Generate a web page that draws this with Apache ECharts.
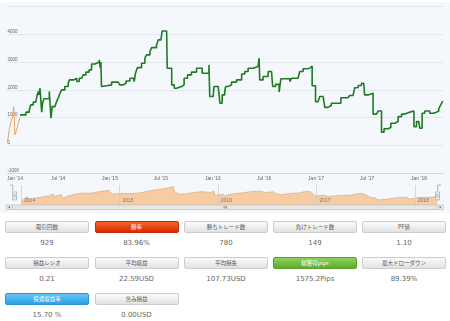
<!DOCTYPE html>
<html><head><meta charset="utf-8">
<script src="https://cdn.jsdelivr.net/npm/echarts@6/dist/echarts.min.js"></script>
<style>
html,body{margin:0;padding:0;background:#fff;width:450px;height:321px;overflow:hidden;}
#bg{position:absolute;left:0;top:2px;width:450px;height:211px;background:#f4f8fc;}
#chart{position:absolute;left:0;top:0;width:450px;height:213px;}
.stat{position:absolute;width:84px;}
.btn{box-sizing:border-box;height:12px;border:1px solid #cdcdcd;border-radius:2px;background:linear-gradient(#fbfbfb,#e2e2e2);color:#555;font-family:"Noto Sans CJK JP",sans-serif;font-size:5.5px;line-height:10px;text-align:center;white-space:nowrap;}
.btn.red{background:linear-gradient(#f4632f,#d82a02);border-color:#c52a06;color:#fff;}
.btn.green{background:linear-gradient(#8fd25c,#5dab2f);border-color:#5a9e2e;color:#fff;}
.btn.blue{background:linear-gradient(#63c6f6,#2c9fe6);border-color:#2a92d0;color:#fff;}
.val{margin-top:6px;line-height:8px;text-align:center;font-family:"DejaVu Sans",sans-serif;font-size:7px;color:#666;white-space:nowrap;}
</style></head>
<body>
<div id="bg"></div>
<div id="chart"></div>
<div id="stats"></div>
<script>
// ---- data ----
const orangeDates = ['2014-01-02','2014-01-09','2014-01-15','2014-01-21','2014-01-25','2014-01-29','2014-02-04','2014-02-10','2014-02-16'];
const orangeValues = [80,560,860,1040,1400,380,560,800,990];

const greenDates = [
'2014-02-16','2014-03-09','2014-03-21','2014-03-26','2014-04-04','2014-04-13','2014-04-18','2014-04-22','2014-04-24','2014-04-28',
'2014-05-01','2014-05-04','2014-05-07','2014-05-12','2014-05-31','2014-06-04','2014-06-06','2014-06-10','2014-06-20','2014-06-26',
'2014-07-02','2014-07-08','2014-07-14','2014-07-25','2014-08-06','2014-08-10','2014-08-26','2014-09-05','2014-09-14','2014-09-23',
'2014-09-28','2014-10-08','2014-10-19','2014-10-28','2014-11-09','2014-11-24','2014-11-26','2014-11-28','2014-11-30','2014-12-02',
'2014-12-07','2014-12-20','2015-01-07','2015-01-30','2015-02-05','2015-02-17','2015-02-27','2015-03-13','2015-03-25','2015-03-28',
'2015-04-01','2015-04-08','2015-04-23','2015-05-05','2015-05-11','2015-05-23','2015-05-29','2015-06-15','2015-06-21','2015-07-01',
'2015-07-05','2015-07-21','2015-07-23','2015-08-08','2015-08-17','2015-08-25','2015-09-12','2015-09-21','2015-10-03','2015-10-17',
'2015-11-04','2015-11-24','2015-12-06','2015-12-13','2015-12-18','2015-12-21','2016-01-02','2016-01-05','2016-01-20','2016-01-26',
'2016-02-03','2016-02-12','2016-02-15','2016-02-24','2016-03-07','2016-03-25','2016-04-12','2016-04-23','2016-05-05','2016-05-23',
'2016-06-09','2016-06-13','2016-06-15','2016-06-27','2016-07-15','2016-07-27','2016-07-31','2016-08-10','2016-08-23','2016-08-29',
'2016-09-30','2016-10-06','2016-10-29','2016-11-04','2016-11-16','2016-11-28','2016-12-10','2016-12-16','2016-12-18','2016-12-30',
'2017-01-08','2017-01-14','2017-01-26','2017-02-01','2017-02-12','2017-02-24','2017-03-30','2017-04-24','2017-04-30','2017-05-12',
'2017-05-18','2017-05-30','2017-06-11','2017-06-19','2017-06-22','2017-07-04','2017-07-10','2017-07-22','2017-08-03','2017-08-09',
'2017-08-21','2017-08-30','2017-09-13','2017-09-23','2017-10-07','2017-10-19','2017-10-31','2017-11-11','2017-11-29','2017-12-14',
'2017-12-23','2017-12-31','2018-01-04','2018-01-12','2018-01-21','2018-02-08','2018-02-20','2018-03-04','2018-03-12','2018-03-19',
'2018-03-26'];
const greenValues = [
1100,1200,1280,1460,1560,1600,1820,1940,1820,2060,
2090,1200,1520,1680,1940,1900,980,1400,1440,1580,
1720,1880,2000,2120,2240,2360,2420,2300,2420,2360,
2540,2640,2720,2930,3000,3080,3140,2780,3000,2120,
2150,2180,2280,2240,2180,2240,2320,2420,2480,2300,
2570,2800,2960,3140,3260,3380,3520,3600,3800,3860,
4120,4160,2780,2180,2060,2120,2180,2420,2540,2640,
2780,2600,2540,2600,2900,1760,1800,2120,2100,1520,
1820,1940,2120,2180,2280,2360,2570,2660,2780,2840,
2900,3140,2360,2480,2660,2720,2120,2200,1920,2400,
2300,2420,2400,2660,2760,2780,2840,2860,2150,1580,
1640,1760,1800,1370,1440,1520,1720,1760,1800,1850,
2080,2160,2240,2300,1820,1850,1880,1130,1160,1240,
480,600,650,800,860,1040,1130,1200,1240,680,
860,880,620,1160,1240,1160,1200,1240,1330,1460,
1600];

const tickLabels = ['2014-01-01','2014-07-01','2015-01-01','2015-07-01','2016-01-01','2016-07-01','2017-01-01','2017-07-01','2018-01-01'];
const navYears = ['2014-01-01','2015-01-01','2016-01-01','2017-01-01','2018-01-01'];
const monthNames = ['Jan','Feb','Mar','Apr','May','Jun','Jul','Aug','Sep','Oct','Nov','Dec'];

const statLabels = ['取引回数','勝率','勝ちトレード数','負けトレード数','PF値','損益レシオ','平均収益','平均損失','総獲得pips','最大ドローダウン','投資収益率','含み損益'];
const statValues = ['929','83.96%','780','149','1.10','0.21','22.59USD','107.73USD','1575.2Pips','89.39%','15.70 %','0.00USD'];
const statKinds  = ['','red','','','','','','','green','','blue',''];

// ---- stats grid ----
const colLeft = [5, 94.5, 184, 273, 362];
const rowTop = [221, 257, 293];
const host = document.getElementById('stats');
statLabels.forEach((lab, i) => {
  const d = document.createElement('div');
  d.className = 'stat';
  d.style.left = colLeft[i % 5] + 'px';
  d.style.top = rowTop[Math.floor(i / 5)] + 'px';
  d.innerHTML = '<div class="btn ' + statKinds[i] + '">' + lab + '</div><div class="val">' + statValues[i] + '</div>';
  host.appendChild(d);
});

// ---- chart ----
const T = s => { const p = s.split('-').map(Number); return Date.UTC(p[0], p[1] - 1, p[2]); };
const zip = (d, v) => d.map((s, i) => [T(s), v[i]]);
const orangeData = zip(orangeDates, orangeValues);
const greenData = zip(greenDates, greenValues);
const navData = orangeData.concat(greenData.slice(1));
const tickVals = tickLabels.map(T);
const navVals = navYears.map(T);
const FONT = 'Liberation Sans';
const fmtMain = v => { const d = new Date(v); return monthNames[d.getUTCMonth()] + " '" + String(d.getUTCFullYear()).slice(2); };
const fmtYear = v => String(new Date(v).getUTCFullYear());

const chart = echarts.init(document.getElementById('chart'), null, {renderer: 'canvas'});
chart.setOption({
  animation: false,
  backgroundColor: 'transparent',
  textStyle: {fontFamily: FONT},
  grid: [
    {left: 7, right: 7, top: 6.5, height: 166.8},
    {left: 12.7, right: 12.3, top: 185, height: 20.3}
  ],
  xAxis: [
    {type: 'value', gridIndex: 0, min: T('2014-01-01'), max: T('2018-03-27'),
     axisLine: {show: true, onZero: false, lineStyle: {color: '#ccd6eb', width: 1}},
     axisTick: {show: false, customValues: tickVals},
     splitLine: {show: false},
     axisLabel: {customValues: tickVals, fontSize: 5, color: '#666', margin: 2.5, fontFamily: FONT,
       alignMinLabel: 'left', formatter: fmtMain}},
    {type: 'value', gridIndex: 1, min: T('2013-12-01'), max: T('2018-03-27'), z: 5,
     axisLine: {show: false, onZero: false},
     axisTick: {show: false, customValues: navVals},
     splitLine: {show: true, lineStyle: {color: '#c9c9c9', width: 0.7}},
     axisLabel: {inside: true, customValues: navVals, fontSize: 5, color: '#777', margin: 2.5, align: 'left', padding: [0, 0, 0, 3], fontFamily: FONT,
       formatter: fmtYear}}
  ],
  yAxis: [
    {type: 'value', gridIndex: 0, min: -1000, max: 5000, interval: 1000,
     axisLine: {show: false}, axisTick: {show: false},
     splitLine: {show: true, lineStyle: {color: '#e3e8ee', width: 1}},
     axisLabel: {inside: true, margin: 0.5, fontSize: 4.5, color: '#666', verticalAlign: 'bottom', showMaxLabel: false, fontFamily: FONT,
       formatter: v => String(v)}},
    {type: 'value', gridIndex: 1, min: -1000, max: 4600, show: false, splitLine: {show: false}}
  ],
  dataZoom: [{
    type: 'slider', xAxisIndex: 0, filterMode: 'none', start: 0, end: 100,
    left: 12.7, right: 12.3, top: 185, height: 20.3,
    showDataShadow: false, showDetail: false, brushSelect: false, moveHandleSize: 0,
    backgroundColor: 'rgba(0,0,0,0)', borderColor: 'rgba(0,0,0,0)', fillerColor: 'rgba(0,0,0,0)',
    handleIcon: 'path://M0,0H4V8H0Z M1.4,2V6 M2.6,2V6',
    handleSize: 8,
    handleStyle: {color: '#f2f2f2', borderColor: '#999', borderWidth: 0.6},
    emphasis: {handleStyle: {color: '#f2f2f2', borderColor: '#999'}},
    z: 10
  }],
  graphic: [
    {type: 'rect', shape: {x: 6, y: 205, width: 437, height: 4.5}, style: {fill: '#f2f2f2', stroke: '#cccccc', lineWidth: 0.5}, z: 20},
    {type: 'rect', shape: {x: 12.7, y: 205, width: 425, height: 4.5}, style: {fill: '#e6e6e6', stroke: '#bbbbbb', lineWidth: 0.5}, z: 21},
    {type: 'rect', shape: {x: 6, y: 205, width: 6.2, height: 4.5}, style: {fill: '#e6e6e6', stroke: '#bbbbbb', lineWidth: 0.5}, z: 22},
    {type: 'rect', shape: {x: 437.2, y: 205, width: 6.2, height: 4.5}, style: {fill: '#e6e6e6', stroke: '#bbbbbb', lineWidth: 0.5}, z: 22},
    {type: 'polygon', shape: {points: [[10, 206.2], [10, 208.3], [8.2, 207.25]]}, style: {fill: '#555'}, z: 23},
    {type: 'polygon', shape: {points: [[439.6, 206.2], [439.6, 208.3], [441.4, 207.25]]}, style: {fill: '#555'}, z: 23},
    {type: 'polyline', shape: {points: [[224, 206], [224, 208.5]]}, style: {stroke: '#555', lineWidth: 0.5}, z: 23},
    {type: 'polyline', shape: {points: [[225.3, 206], [225.3, 208.5]]}, style: {stroke: '#555', lineWidth: 0.5}, z: 23},
    {type: 'polyline', shape: {points: [[226.6, 206], [226.6, 208.5]]}, style: {stroke: '#555', lineWidth: 0.5}, z: 23},
    {type: 'polyline', shape: {points: [[10, 185], [12.7, 185], [12.7, 191]]}, style: {stroke: '#999', lineWidth: 0.7, fill: null}, z: 23},
    {type: 'polyline', shape: {points: [[441, 185], [437.7, 185], [437.7, 191]]}, style: {stroke: '#999', lineWidth: 0.7, fill: null}, z: 23}
  ],
  series: [
    {type: 'line', name: 'start', xAxisIndex: 0, yAxisIndex: 0, data: orangeData, showSymbol: false,
     lineStyle: {color: '#e8a365', width: 1}, itemStyle: {color: '#e8a365'}, z: 2},
    {type: 'line', name: 'equity', xAxisIndex: 0, yAxisIndex: 0, data: greenData, step: 'end', showSymbol: false,
     lineStyle: {color: '#1f7a23', width: 1.6}, itemStyle: {color: '#1f7a23'}, z: 3},
    {type: 'line', name: 'navigator', xAxisIndex: 1, yAxisIndex: 1, data: navData, showSymbol: false,
     lineStyle: {color: '#d6a274', width: 0.6}, areaStyle: {color: '#f7cba3', opacity: 1, origin: 'start'}, z: 1}
  ]
});
</script>
</body></html>
